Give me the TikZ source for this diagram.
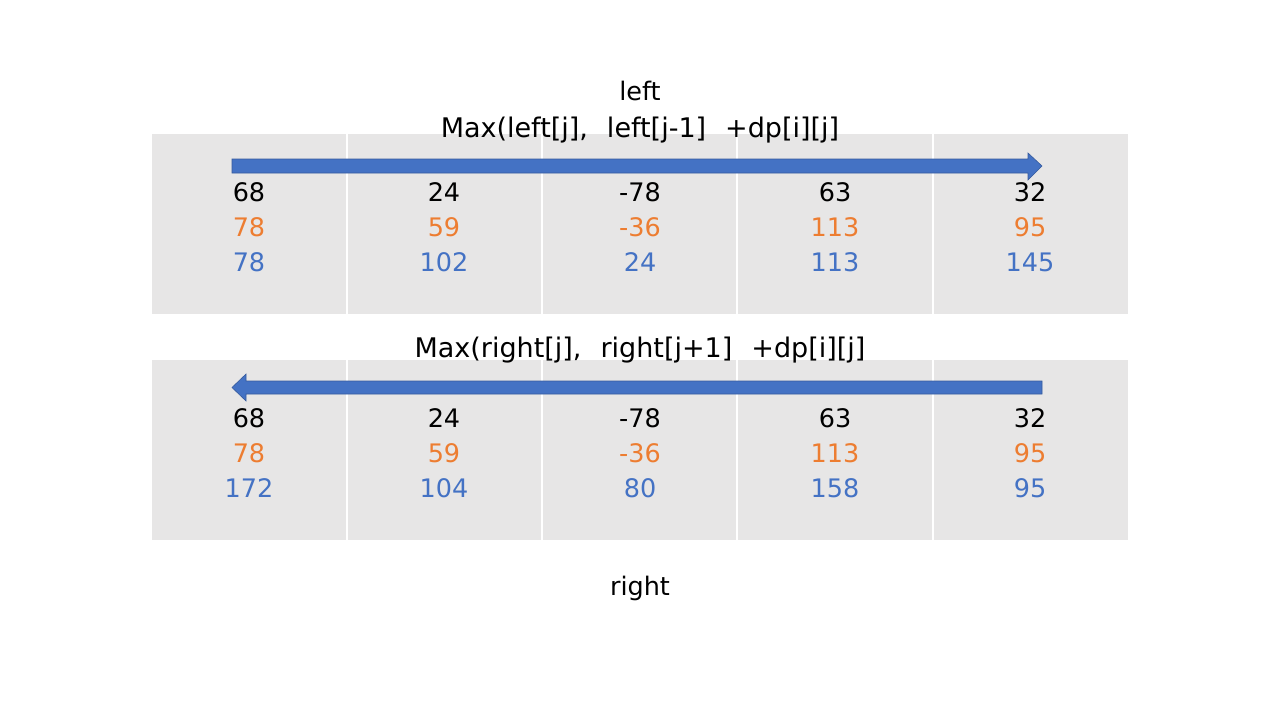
\documentclass[tikz,border=0pt]{standalone}
\usepackage{fontspec}
\setmainfont{DejaVu Sans}
\definecolor{cellgray}{HTML}{E7E6E6}
\definecolor{msblue}{HTML}{4472C4}
\definecolor{msorange}{HTML}{ED7D31}
\newcommand{\gapsp}{\hspace{19pt}}
\begin{document}
\begin{tikzpicture}[x=1pt,y=-1pt,
  txt/.style={font=\fontsize{25.5}{30}\selectfont, inner sep=0pt, anchor=base},
  val/.style={txt, text=black},
  ttl/.style={val, font=\fontsize{27}{32}\selectfont},
  orv/.style={txt, text=msorange},
  blv/.style={txt, text=msblue},
  sep/.style={white, line width=1.2pt},
  arrowfill/.style={fill=msblue, draw=msblue!80!black, line width=0.6pt}]
\useasboundingbox[fill=white] (0,0) rectangle (1280,720);
% tables
\fill[cellgray] (152,134) rectangle (1128,314);
\fill[cellgray] (152,360) rectangle (1128,540);
\foreach \x in {347,542,737,933}{
  \draw[sep] (\x,134) -- (\x,314);
  \draw[sep] (\x,360) -- (\x,540);
}
% arrows
\path[arrowfill] (232,159) -- (1028,159) -- (1028,153) -- (1042,166) -- (1028,180) -- (1028,173) -- (232,173) -- cycle;
\path[arrowfill] (1042,381) -- (246,381) -- (246,374) -- (232,387.5) -- (246,401) -- (246,394) -- (1042,394) -- cycle;
% titles
\node[val] (tleft) at (640,100) {left};
\node[ttl] (tmaxl) at (640,137) {Max(left[j],\gapsp left[j-1]\gapsp +dp[i][j]};
\node[ttl] (tmaxr) at (640,357) {Max(right[j],\gapsp right[j+1]\gapsp +dp[i][j]};
\node[val] (tright) at (640,595) {right};
% top table values
\foreach \i/\a/\b/\c [count=\k] in {249/68/78/78, 444/24/59/102, 640/-78/-36/24, 835/63/113/113, 1030/32/95/145}{
  \node[val] (ta\k) at (\i,201) {\a};
  \node[orv] (tb\k) at (\i,236) {\b};
  \node[blv] (tc\k) at (\i,271) {\c};
}
% bottom table values
\foreach \i/\a/\b/\c [count=\k] in {249/68/78/172, 444/24/59/104, 640/-78/-36/80, 835/63/113/158, 1030/32/95/95}{
  \node[val] (ba\k) at (\i,427) {\a};
  \node[orv] (bb\k) at (\i,462) {\b};
  \node[blv] (bc\k) at (\i,497) {\c};
}
\end{tikzpicture}
\end{document}
